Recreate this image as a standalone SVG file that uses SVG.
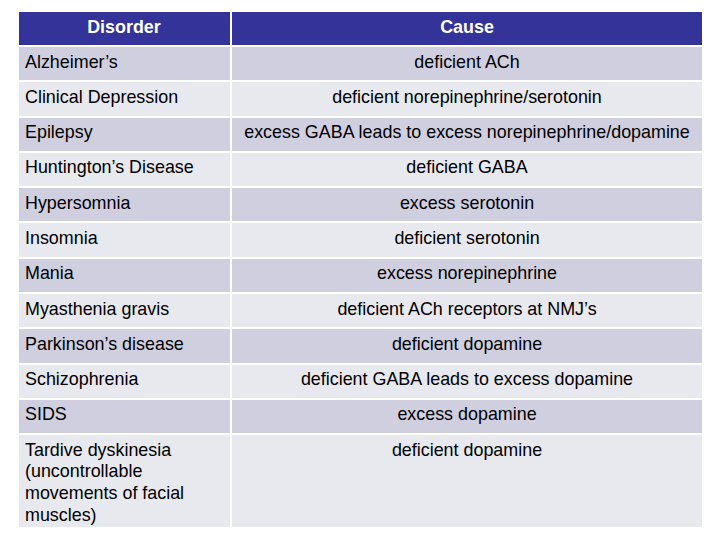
<svg xmlns="http://www.w3.org/2000/svg" width="720" height="540" viewBox="0 0 720 540">
<style>
.h{fill:#333399}.a{fill:#CFCFE0}.b{fill:#E8E8EF}
text{font-family:"Liberation Sans",Arial,sans-serif;font-size:17.9px;fill:#000}
.ht{fill:#fff;font-weight:bold;text-anchor:middle}
.c{text-anchor:middle}
</style>
<rect width="720" height="540" fill="#fff"/>
<g id="header">
<rect class="h" x="19" y="12" width="211" height="33"/><rect class="h" x="232" y="12" width="470" height="33"/>
<text class="ht" x="124" y="33">Disorder</text><text class="ht" x="467" y="33">Cause</text>
</g>
<g id="rows">
<rect class="a" x="19" y="47" width="211" height="33"/><rect class="a" x="232" y="47" width="470" height="33"/>
<rect class="b" x="19" y="82" width="211" height="34"/><rect class="b" x="232" y="82" width="470" height="34"/>
<rect class="a" x="19" y="118" width="211" height="33"/><rect class="a" x="232" y="118" width="470" height="33"/>
<rect class="b" x="19" y="153" width="211" height="33"/><rect class="b" x="232" y="153" width="470" height="33"/>
<rect class="a" x="19" y="188" width="211" height="33"/><rect class="a" x="232" y="188" width="470" height="33"/>
<rect class="b" x="19" y="223" width="211" height="34"/><rect class="b" x="232" y="223" width="470" height="34"/>
<rect class="a" x="19" y="259" width="211" height="33"/><rect class="a" x="232" y="259" width="470" height="33"/>
<rect class="b" x="19" y="294" width="211" height="33"/><rect class="b" x="232" y="294" width="470" height="33"/>
<rect class="a" x="19" y="329" width="211" height="34"/><rect class="a" x="232" y="329" width="470" height="34"/>
<rect class="b" x="19" y="365" width="211" height="33"/><rect class="b" x="232" y="365" width="470" height="33"/>
<rect class="a" x="19" y="400" width="211" height="33"/><rect class="a" x="232" y="400" width="470" height="33"/>
<rect class="b" x="19" y="435" width="211" height="92"/><rect class="b" x="232" y="435" width="470" height="92"/>
</g>
<g id="text">
<text x="25" y="68">Alzheimer’s</text><text class="c" x="467" y="68">deficient ACh</text>
<text x="25" y="103">Clinical Depression</text><text class="c" x="467" y="103">deficient norepinephrine/serotonin</text>
<text x="25" y="138">Epilepsy</text><text class="c" x="467" y="138">excess GABA leads to excess norepinephrine/dopamine</text>
<text x="25" y="173">Huntington’s Disease</text><text class="c" x="467" y="173">deficient GABA</text>
<text x="25" y="209">Hypersomnia</text><text class="c" x="467" y="209">excess serotonin</text>
<text x="25" y="244">Insomnia</text><text class="c" x="467" y="244">deficient serotonin</text>
<text x="25" y="279">Mania</text><text class="c" x="467" y="279">excess norepinephrine</text>
<text x="25" y="315">Myasthenia gravis</text><text class="c" x="467" y="315">deficient ACh receptors at NMJ’s</text>
<text x="25" y="350">Parkinson’s disease</text><text class="c" x="467" y="350">deficient dopamine</text>
<text x="25" y="385">Schizophrenia</text><text class="c" x="467" y="385">deficient GABA leads to excess dopamine</text>
<text x="25" y="420">SIDS</text><text class="c" x="467" y="420">excess dopamine</text>
<text x="25" y="456">Tardive dyskinesia</text><text x="25" y="477">(uncontrollable</text><text x="25" y="499">movements of facial</text><text x="25" y="521">muscles)</text>
<text class="c" x="467" y="456">deficient dopamine</text>
</g>
</svg>
